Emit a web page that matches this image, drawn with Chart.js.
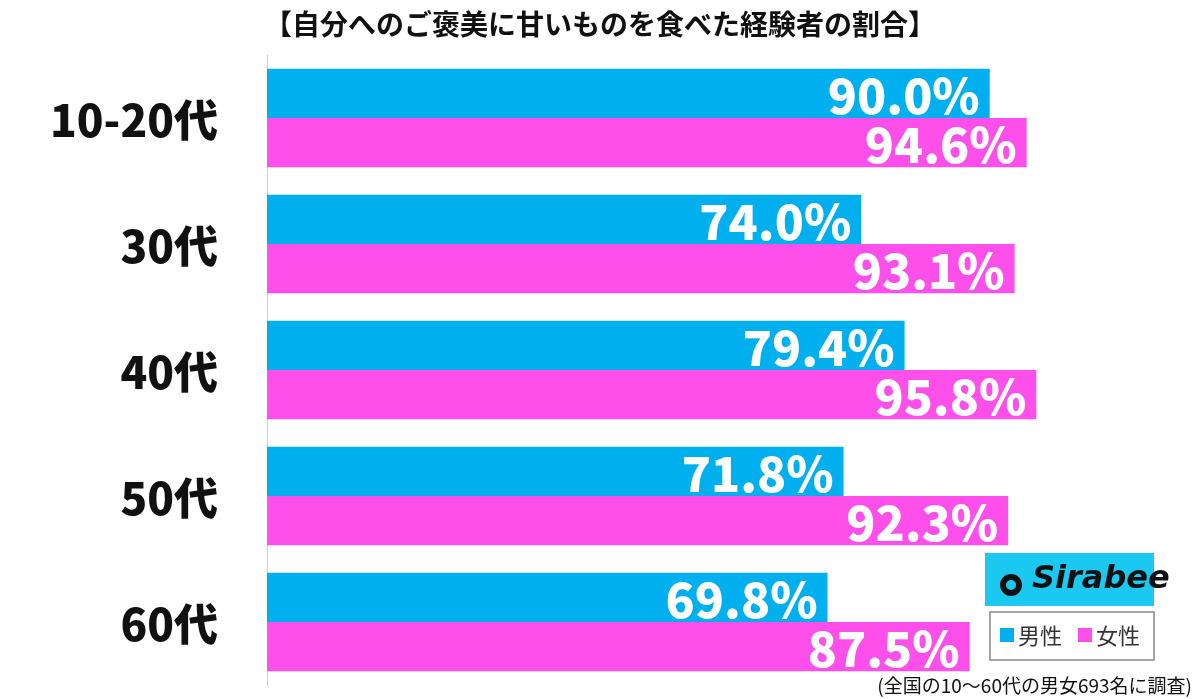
<!DOCTYPE html>
<html><head><meta charset="utf-8">
<script src="https://cdn.jsdelivr.net/npm/chart.js@4"></script>
<style>html,body{margin:0;padding:0;background:#fff}#w{position:relative;width:1200px;height:699px}</style>
</head><body><div id="w"><canvas id="c" width="1200" height="699"></canvas></div>
<script>
const categories=["10-20代","30代","40代","50代","60代"];
const maleValues=[90.0,74.0,79.4,71.8,69.8];
const femaleValues=[94.6,93.1,95.8,92.3,87.5];
const seriesNames=["男性","女性"];
const title="【自分へのご褒美に甘いものを食べた経験者の割合】";
const note="(全国の10～60代の男女693名に調査)";
const colors=["#00B0EE","#FF4FEA"];
const FONT='"Noto Sans CJK JP","Noto Sans",sans-serif';
const deco={id:'deco',afterDatasetsDraw(ch){
 const c=ch.ctx;c.save();
 const ys=ch.scales.y;
 c.fillStyle='#111';c.font='900 44px '+FONT;c.textAlign='right';c.textBaseline='middle';
 categories.forEach((l,i)=>c.fillText(l,218,ys.getPixelForTick(i)+2));
 c.fillStyle='#fff';c.font='900 48px '+FONT;
 ch.data.datasets.forEach((ds,i)=>{ch.getDatasetMeta(i).data.forEach((b,j)=>{
   c.fillText(ds.data[j].toFixed(1)+'%',b.x-10,b.y+2);});});
 c.fillStyle='#111';c.font='bold 28px '+FONT;c.textAlign='center';
 c.fillText(title,600,24);
 c.font='19px '+FONT;c.textAlign='right';c.fillText(note,1192,686);
 c.fillStyle='#1BC8F0';c.fillRect(985,553,169,53);
 c.fillStyle='#111';c.font='italic bold 32px "DejaVu Sans",sans-serif';c.textAlign='left';
 c.fillText('Sirabee',1032,580);
 c.beginPath();c.arc(1011,585,11,0,Math.PI*2);c.fill();
 c.fillStyle='#1BC8F0';c.beginPath();c.arc(1011,585,5,0,Math.PI*2);c.fill();
 c.strokeStyle='#888';c.lineWidth=1.5;c.strokeRect(990,612,164,48);
 c.font='22px '+FONT;
 seriesNames.forEach((n,i)=>{const x=1000+i*78;c.fillStyle=colors[i];c.fillRect(x,628,14,14);
   c.fillStyle='#333';c.fillText(n,x+18,636);});
 c.restore();}};
new Chart(document.getElementById('c'),{type:'bar',
 data:{labels:categories,datasets:[
  {label:seriesNames[0],data:maleValues,backgroundColor:colors[0]},
  {label:seriesNames[1],data:femaleValues,backgroundColor:colors[1]}]},
 options:{indexAxis:'y',responsive:false,animation:false,
  layout:{padding:{top:55,bottom:14,right:130,left:0}},
  categoryPercentage:0.78,barPercentage:1,
  plugins:{legend:{display:false},tooltip:{enabled:false}},
  scales:{x:{min:0,max:100,display:false},
   y:{grid:{display:false},border:{display:true,color:'#ccc',width:1},
     afterFit(s){s.width=267;},
     ticks:{display:false}}}},
 plugins:[deco]});
</script></body></html>
